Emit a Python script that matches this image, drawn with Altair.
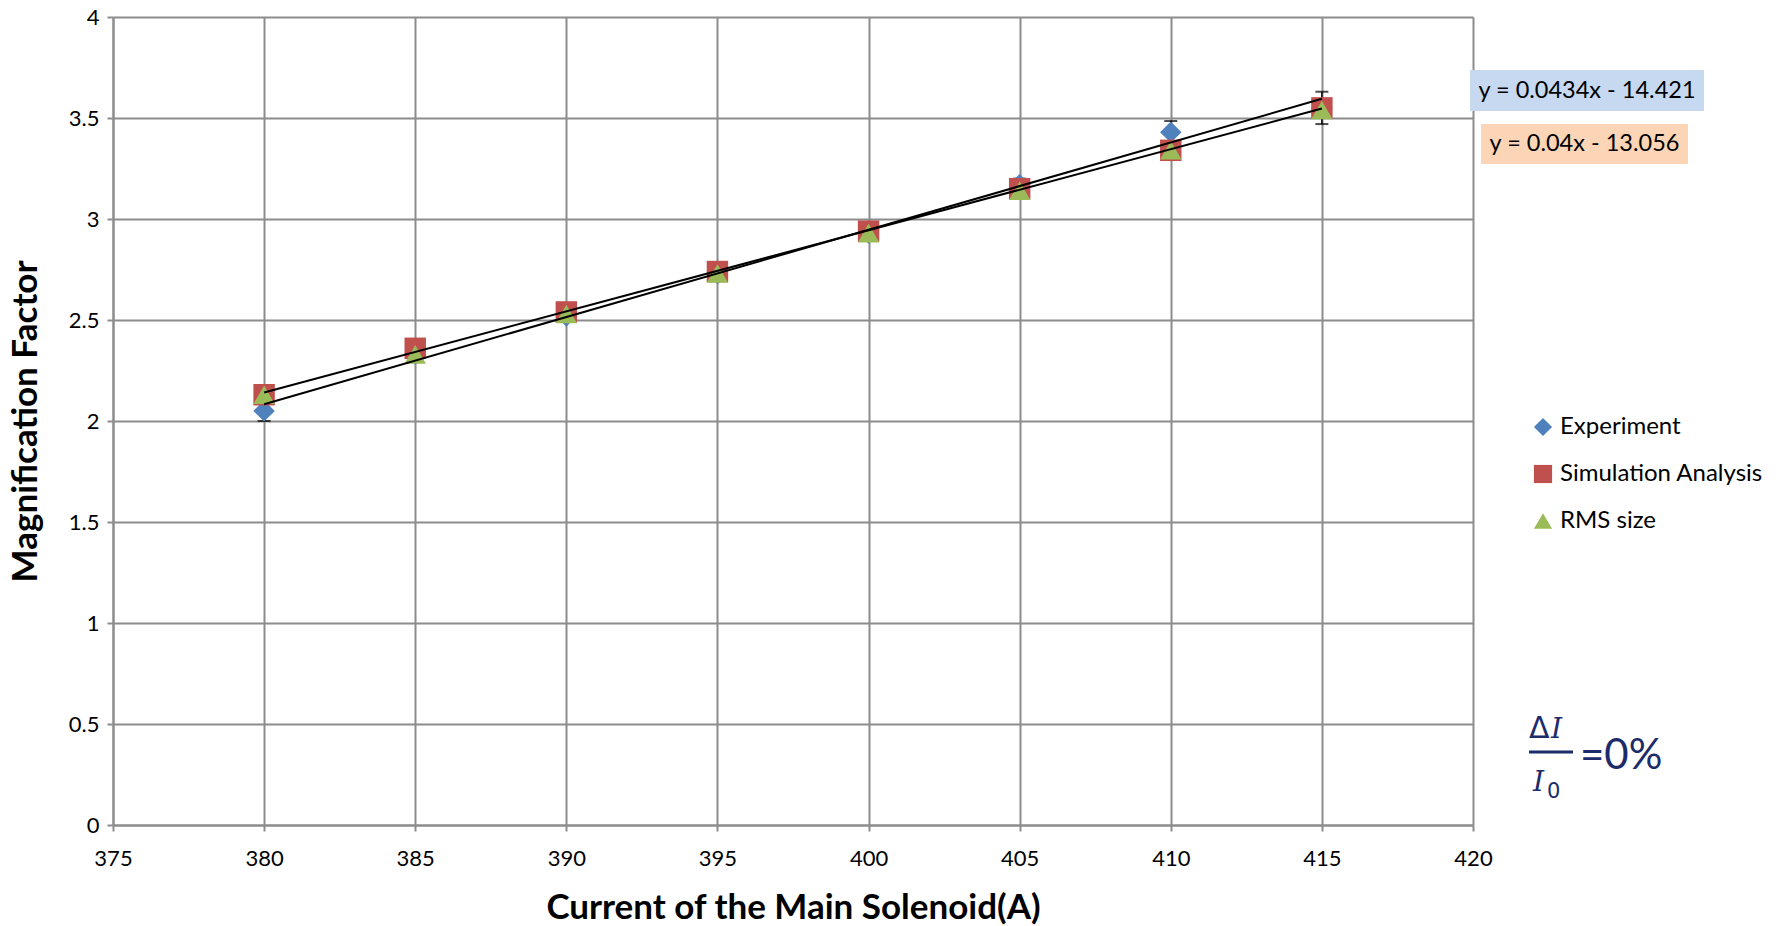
import altair as alt
import pandas as pd

# ---------------- data ----------------
current = [380, 385, 390, 395, 400, 405, 410, 415]
experiment = [2.05, 2.33, 2.52, 2.73, 2.93, 3.17, 3.43, 3.55]
experiment_err = [0.05, 0.03, 0.03, 0.03, 0.03, 0.03, 0.055, 0.08]
simulation = [2.13, 2.36, 2.54, 2.74, 2.94, 3.15, 3.34, 3.55]
rms_size = [2.13, 2.33, 2.53, 2.73, 2.93, 3.14, 3.34, 3.54]

series_names = ["Experiment", "Simulation Analysis", "RMS size"]
series_colors = ["#4F81BD", "#C0504D", "#9BBB59"]
series_shapes = ["diamond", "square", "triangle-up"]
trend_series = ["Experiment", "Simulation Analysis"]

x_ticks = [375, 380, 385, 390, 395, 400, 405, 410, 415, 420]
y_ticks = [0, 0.5, 1, 1.5, 2, 2.5, 3, 3.5, 4]

equations = ["y = 0.0434x - 14.421", "y = 0.04x - 13.056"]
eq_fills = ["#C6D9F1", "#FBD5B5"]

x_title = "Current of the Main Solenoid(A)"
y_title = "Magnification Factor"

# ---------------- tables ----------------
rows = []
for name, vals in zip(series_names, [experiment, simulation, rms_size]):
    for c, v in zip(current, vals):
        rows.append({"current": c, "value": v, "series": name})
pts = pd.DataFrame(rows)

err = pd.DataFrame({"current": current, "value": experiment, "err": experiment_err})

W, H = 1360, 808
FONT = "Lato"
NAVY = "#1B2B6B"

xs = alt.Scale(domain=[375, 420], nice=False, zero=False)
ys = alt.Scale(domain=[0, 4], nice=False)

x_enc = alt.X(
    "current:Q", scale=xs, title=x_title,
    axis=alt.Axis(values=x_ticks, format="d", titleFontSize=35, titleFont=FONT,
                  titleFontWeight="bold", titlePadding=21, labelPadding=17, labelFlush=False),
)
y_enc = alt.Y(
    "value:Q", scale=ys, title=y_title,
    axis=alt.Axis(values=y_ticks, format="~g", titleFontSize=35, titleFont=FONT,
                  titleFontWeight="bold", titlePadding=25, labelPadding=8, labelFlush=False),
)

base_err = alt.Chart(err).transform_calculate(
    lo="datum.value - datum.err", hi="datum.value + datum.err"
)
err_rule = base_err.mark_rule(color="black", strokeWidth=1.5).encode(
    x=x_enc, y=alt.Y("lo:Q", scale=ys), y2="hi:Q"
)
cap_lo = base_err.mark_tick(color="black", orient="horizontal", size=13, thickness=2).encode(
    x="current:Q", y=alt.Y("lo:Q", scale=ys)
)
cap_hi = base_err.mark_tick(color="black", orient="horizontal", size=13, thickness=2).encode(
    x="current:Q", y=alt.Y("hi:Q", scale=ys)
)

leg = alt.Legend(
    title=None, orient="none", legendX=1418, legendY=398,
    labelFont=FONT, labelFontSize=24, labelColor="black", labelLimit=0,
    symbolSize=330, rowPadding=23, labelOffset=5, symbolStrokeWidth=0,
)

points = alt.Chart(pts).mark_point(filled=True, size=460, opacity=1, strokeWidth=0).encode(
    x=x_enc,
    y=y_enc,
    color=alt.Color("series:N", scale=alt.Scale(domain=series_names, range=series_colors), legend=leg),
    shape=alt.Shape("series:N", scale=alt.Scale(domain=series_names, range=series_shapes), legend=leg),
)

trend = (
    alt.Chart(pts)
    .transform_filter(alt.FieldOneOfPredicate(field="series", oneOf=trend_series))
    .transform_regression("current", "value", groupby=["series"])
    .mark_line(color="black", strokeWidth=2)
    .encode(x=alt.X("current:Q", scale=xs), y=alt.Y("value:Q", scale=ys), detail="series:N")
)

# equation labels with coloured boxes
eq_df = pd.DataFrame({
    "eq": equations,
    "fill": eq_fills,
    "x0": [1357, 1368], "x1": [1591, 1575],
    "y0": [53, 107], "y1": [94, 147],
})
eq_df["xc"] = (eq_df["x0"] + eq_df["x1"]) / 2
eq_df["yc"] = (eq_df["y0"] + eq_df["y1"]) / 2
eq_box = alt.Chart(eq_df).mark_rect().encode(
    x=alt.X("x0:Q", scale=None), x2="x1:Q",
    y=alt.Y("y0:Q", scale=None), y2="y1:Q",
    fill=alt.Fill("fill:N", scale=None),
)
eq_text = alt.Chart(eq_df).mark_text(font=FONT, fontSize=23.5, color="black", baseline="middle").encode(
    x=alt.X("xc:Q", scale=None), y=alt.Y("yc:Q", scale=None), text="eq:N"
)

# delta I / I0 = 0% annotation
dummy = pd.DataFrame({"a": [0]})
d_delta = alt.Chart(dummy).mark_text(font="DejaVu Sans", fontSize=30, color=NAVY, align="left",
                                     baseline="alphabetic").encode(
    x=alt.value(1416), y=alt.value(721), text=alt.value("Δ"))
d_I = alt.Chart(dummy).mark_text(font="DejaVu Serif", fontStyle="italic", fontSize=28, color=NAVY,
                                 align="left", baseline="alphabetic").encode(
    x=alt.value(1438), y=alt.value(721), text=alt.value("I"))
d_bar = alt.Chart(dummy).mark_rule(color=NAVY, strokeWidth=3).encode(
    x=alt.value(1416), x2=alt.value(1460), y=alt.value(735))
d_I0 = alt.Chart(dummy).mark_text(font="DejaVu Serif", fontStyle="italic", fontSize=28, color=NAVY,
                                  align="left", baseline="alphabetic").encode(
    x=alt.value(1420), y=alt.value(774), text=alt.value("I"))
d_sub = alt.Chart(dummy).mark_text(font="DejaVu Sans", fontSize=21, color=NAVY,
                                   align="left", baseline="alphabetic").encode(
    x=alt.value(1434), y=alt.value(781), text=alt.value("0"))
d_eq = alt.Chart(dummy).mark_text(font=FONT, fontSize=42, color=NAVY,
                                  align="left", baseline="alphabetic").encode(
    x=alt.value(1467), y=alt.value(752), text=alt.value("=0%"))

chart = (
    alt.layer(err_rule, cap_lo, cap_hi, points, trend, eq_box, eq_text,
              d_delta, d_I, d_bar, d_I0, d_sub, d_eq)
    .properties(
        width=W, height=H,
        padding={"left": 113, "top": 17, "right": 310, "bottom": 101},
        autosize=alt.AutoSizeParams(type="none"),
        background="white",
    )
    .configure_view(stroke=None)
    .configure_axis(
        grid=True, gridColor="#8C8C8C", gridWidth=2,
        domainColor="#8C8C8C", domainWidth=2,
        tickColor="#8C8C8C", tickWidth=2, tickSize=6,
        labelFont=FONT, labelFontSize=22, labelColor="black",
        titleColor="black",
    )
)

chart.save("out.html", embed_options={"renderer": "svg", "actions": False})
